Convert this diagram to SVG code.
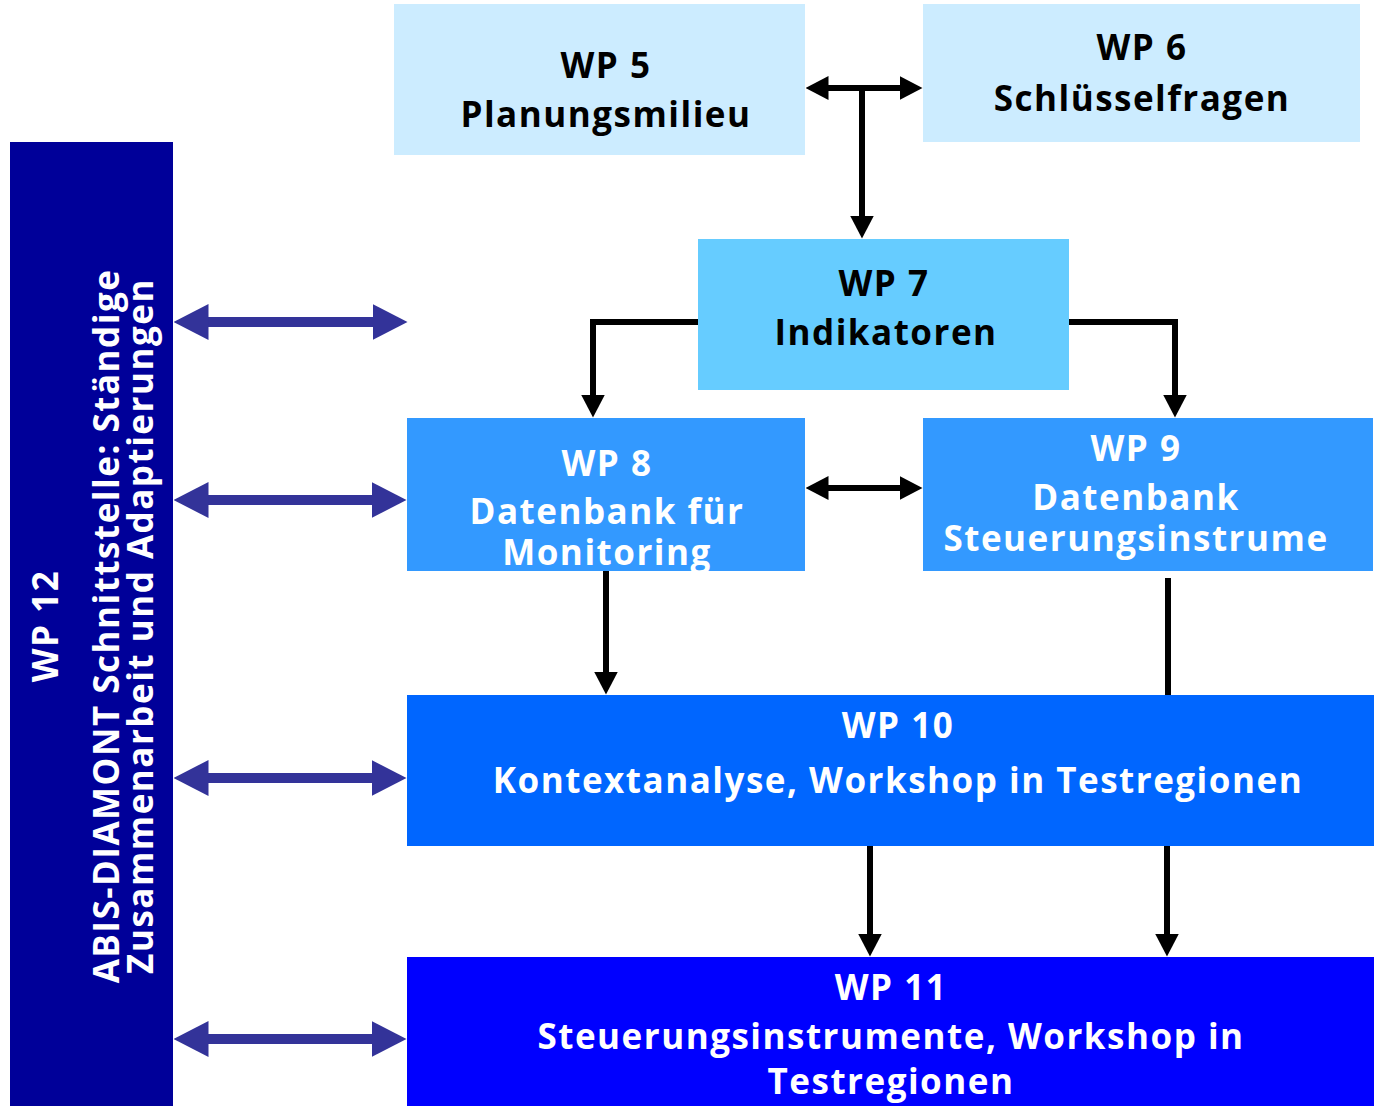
<svg xmlns="http://www.w3.org/2000/svg" width="1374" height="1106" viewBox="0 0 1374 1106">
<style>
.t{font-family:"Open Sans","Noto Sans","DejaVu Sans",sans-serif;font-weight:bold;font-size:35px;text-anchor:middle;letter-spacing:1.5px}
.k{fill:#000}
.w{fill:#fff}
.blk{stroke:#000;stroke-width:6;fill:none;stroke-linejoin:miter}
.pur{stroke:#333399;stroke-width:10;fill:none}
</style>
<defs>
<marker id="ah" viewBox="0 0 23 24" refX="0.5" refY="12" markerWidth="23" markerHeight="24" markerUnits="userSpaceOnUse" orient="auto-start-reverse">
<path d="M0,0 L23,12 L0,24 z" fill="#000"/>
</marker>
<marker id="ph" viewBox="0 0 35 36" refX="0.5" refY="18" markerWidth="35" markerHeight="36" markerUnits="userSpaceOnUse" orient="auto-start-reverse">
<path d="M0,0 L35,18 L0,36 z" fill="#333399"/>
</marker>
<clipPath id="c8"><rect x="407" y="418" width="398" height="153"/></clipPath>
<clipPath id="c9"><rect x="923" y="418" width="450" height="153"/></clipPath>
</defs>
<rect width="1374" height="1106" fill="#fff"/>
<g id="wp12">
<rect x="10" y="142" width="163" height="964" fill="#000099"/>
<text class="t w" transform="translate(58,626) rotate(-90)">WP 12</text>
<text class="t w" transform="translate(119,626) rotate(-90)" letter-spacing="2">ABIS-DIAMONT Schnittstelle: Ständige</text>
<text class="t w" transform="translate(153,626) rotate(-90)">Zusammenarbeit und Adaptierungen</text>
</g>
<g id="wp5">
<rect x="394" y="4" width="411" height="151" fill="#CCECFF"/>
<text class="t k" x="606" y="78">WP 5</text>
<text class="t k" x="606" y="127">Planungsmilieu</text>
</g>
<g id="wp6">
<rect x="923" y="4" width="437" height="138" fill="#CCECFF"/>
<text class="t k" x="1142" y="60">WP 6</text>
<text class="t k" x="1142" y="111">Schlüsselfragen</text>
</g>
<g id="wp7">
<rect x="698" y="239" width="371" height="151" fill="#66CCFF"/>
<text class="t k" x="884" y="296">WP 7</text>
<text class="t k" x="886" y="345">Indikatoren</text>
</g>
<g id="wp8">
<rect x="407" y="418" width="398" height="153" fill="#3399FF"/>
<g clip-path="url(#c8)">
<text class="t w" x="607" y="476">WP 8</text>
<text class="t w" x="607" y="524">Datenbank für</text>
<text class="t w" x="607" y="565">Monitoring</text>
</g>
</g>
<g id="wp9">
<rect x="923" y="418" width="450" height="153" fill="#3399FF"/>
<g clip-path="url(#c9)">
<text class="t w" x="1136" y="461">WP 9</text>
<text class="t w" x="1136" y="510">Datenbank</text>
<text class="t w" x="1136" y="551">Steuerungsinstrume</text>
</g>
</g>
<g id="wp10">
<rect x="407" y="695" width="967" height="151" fill="#0066FF"/>
<text class="t w" x="898" y="738">WP 10</text>
<text class="t w" x="898" y="793">Kontextanalyse, Workshop in Testregionen</text>
</g>
<g id="wp11">
<rect x="407" y="957" width="967" height="149" fill="#0000FF"/>
<text class="t w" x="891" y="1000">WP 11</text>
<text class="t w" x="891" y="1049">Steuerungsinstrumente, Workshop in</text>
<text class="t w" x="891" y="1094">Testregionen</text>
</g>
<g id="connectors">
<line class="blk" x1="828" y1="88" x2="900" y2="88" marker-start="url(#ah)" marker-end="url(#ah)"/>
<line class="blk" x1="862" y1="88" x2="862" y2="216" marker-end="url(#ah)"/>
<path class="blk" d="M698,322 H593 V395" marker-end="url(#ah)"/>
<path class="blk" d="M1069,322 H1175 V395" marker-end="url(#ah)"/>
<line class="blk" x1="828" y1="488" x2="900" y2="488" marker-start="url(#ah)" marker-end="url(#ah)"/>
<line class="blk" x1="606" y1="571" x2="606" y2="672" marker-end="url(#ah)"/>
<line class="blk" x1="1168" y1="578" x2="1168" y2="695"/>
<line class="blk" x1="870" y1="846" x2="870" y2="934" marker-end="url(#ah)"/>
<line class="blk" x1="1167" y1="846" x2="1167" y2="934" marker-end="url(#ah)"/>
<line class="pur" x1="208" y1="322" x2="373" y2="322" marker-start="url(#ph)" marker-end="url(#ph)"/>
<line class="pur" x1="208" y1="500" x2="372" y2="500" marker-start="url(#ph)" marker-end="url(#ph)"/>
<line class="pur" x1="208" y1="778" x2="372" y2="778" marker-start="url(#ph)" marker-end="url(#ph)"/>
<line class="pur" x1="208" y1="1039" x2="372" y2="1039" marker-start="url(#ph)" marker-end="url(#ph)"/>
</g>
</svg>
